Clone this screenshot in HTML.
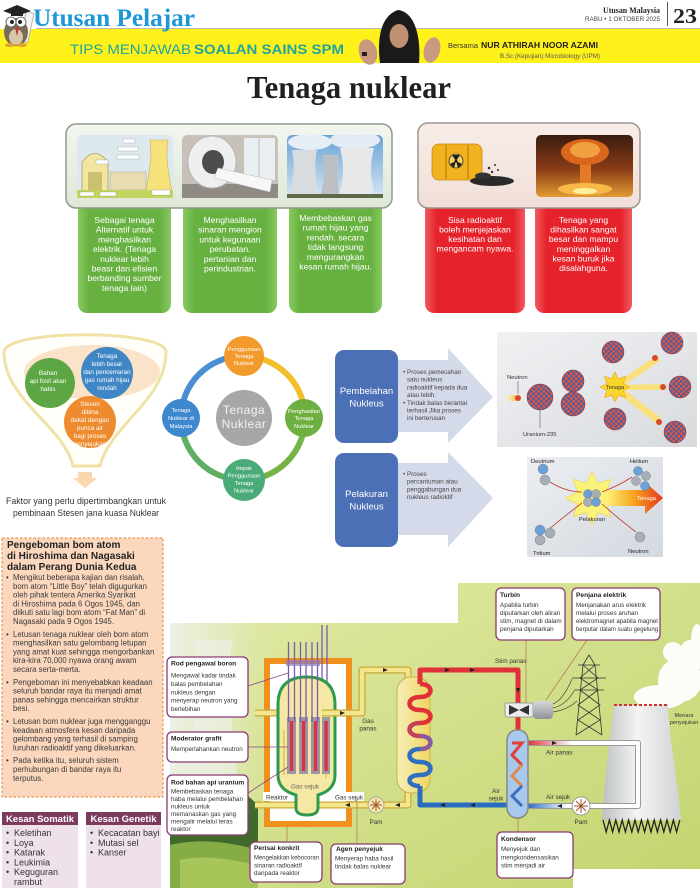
<!DOCTYPE html>
<html><head><meta charset="utf-8">
<style>
html,body{margin:0;padding:0;background:#fff;}
svg{display:block;}
text{font-family:"Liberation Sans",sans-serif;}
text.serif{font-family:"Liberation Serif",serif;}
</style></head><body>
<svg width="700" height="888" viewBox="0 0 700 888" xmlns="http://www.w3.org/2000/svg">
<defs>
<linearGradient id="gG" x1="0" y1="0" x2="1" y2="0"><stop offset="0" stop-color="#88c960"/><stop offset=".12" stop-color="#67b140"/><stop offset=".88" stop-color="#67b140"/><stop offset="1" stop-color="#88c960"/></linearGradient>
<linearGradient id="gR" x1="0" y1="0" x2="1" y2="0"><stop offset="0" stop-color="#f05a5e"/><stop offset=".12" stop-color="#e6222b"/><stop offset=".88" stop-color="#e6222b"/><stop offset="1" stop-color="#f05a5e"/></linearGradient>
<linearGradient id="gCG" x1="0" y1="0" x2="0" y2="1"><stop offset="0" stop-color="#f2f6ef"/><stop offset="1" stop-color="#dfe8d8"/></linearGradient>
<linearGradient id="gCR" x1="0" y1="0" x2="0" y2="1"><stop offset="0" stop-color="#f8ede8"/><stop offset="1" stop-color="#f0dfd8"/></linearGradient>
<linearGradient id="gSky" x1="0" y1="0" x2="0" y2="1"><stop offset="0" stop-color="#6aa3d6"/><stop offset="1" stop-color="#d6e6f3"/></linearGradient>
<linearGradient id="gExp" x1="0" y1="0" x2="0" y2="1"><stop offset="0" stop-color="#3a1c10"/><stop offset=".55" stop-color="#8a3c16"/><stop offset="1" stop-color="#e39a34"/></linearGradient>
<linearGradient id="gFis" x1="0" y1="0" x2="1" y2="1"><stop offset="0" stop-color="#f0f1f3"/><stop offset="1" stop-color="#d8dbde"/></linearGradient>
<linearGradient id="gFus" x1="0" y1="0" x2="1" y2="1"><stop offset="0" stop-color="#eceef1"/><stop offset="1" stop-color="#d3d9e0"/></linearGradient>
<linearGradient id="gFA" x1="0" y1="0" x2="1" y2="0"><stop offset="0" stop-color="#fff27a"/><stop offset=".5" stop-color="#f7a21c"/><stop offset="1" stop-color="#e3361e"/></linearGradient>
<linearGradient id="gTrail" x1="0" y1="0" x2="1" y2="0"><stop offset="0" stop-color="#fff6c0" stop-opacity="0"/><stop offset="1" stop-color="#f6c23a"/></linearGradient>
<linearGradient id="gLime" x1="0" y1="0" x2="1" y2="1"><stop offset="0" stop-color="#e3eaa8"/><stop offset="1" stop-color="#c2d56e"/></linearGradient>
<linearGradient id="gPhoto" x1="0" y1="0" x2="1" y2="0"><stop offset="0" stop-color="#eef1e8"/><stop offset=".6" stop-color="#e4ebc8" stop-opacity=".7"/><stop offset="1" stop-color="#dde7b0" stop-opacity="0"/></linearGradient>
<linearGradient id="gHX" x1="0" y1="0" x2="1" y2="0"><stop offset="0" stop-color="#f7eeb8"/><stop offset="1" stop-color="#efd662"/></linearGradient>
<linearGradient id="gTow" x1="0" y1="0" x2="1" y2="0"><stop offset="0" stop-color="#bcc0c2"/><stop offset=".45" stop-color="#f4f4f4"/><stop offset="1" stop-color="#cfd2d4"/></linearGradient>
<linearGradient id="gAP" gradientUnits="userSpaceOnUse" x1="527" y1="0" x2="572" y2="0"><stop offset="0" stop-color="#e0303a"/><stop offset="1" stop-color="#ffffff"/></linearGradient>
<linearGradient id="gAS" gradientUnits="userSpaceOnUse" x1="527" y1="0" x2="568" y2="0"><stop offset="0" stop-color="#2a6cc0"/><stop offset="1" stop-color="#ffffff"/></linearGradient>
<linearGradient id="gGen" x1="0" y1="0" x2="0" y2="1"><stop offset="0" stop-color="#d4d7da"/><stop offset="1" stop-color="#8e9398"/></linearGradient>
<pattern id="nuc" patternUnits="userSpaceOnUse" width="5" height="5">
<rect width="5" height="5" fill="#d44a3a"/>
<circle cx="1.25" cy="1.25" r="1.3" fill="#3a63b5"/>
<circle cx="3.75" cy="3.75" r="1.3" fill="#3a63b5"/>
<circle cx="3.75" cy="1.25" r="1.2" fill="#e2583f"/>
<circle cx="1.25" cy="3.75" r="1.2" fill="#e2583f"/>
</pattern>
</defs>

<!-- ===== HEADER ===== -->
<rect x="0" y="29" width="700" height="34" fill="#fff11a"/>
<line x1="36" y1="28.5" x2="700" y2="28.5" stroke="#b8b8b8" stroke-width="1"/>
<!-- owl -->
<rect x="23" y="12" width="8" height="30" fill="#f4f4f4" stroke="#aaa" stroke-width=".8" transform="rotate(12 27 27)"/>
<ellipse cx="16" cy="32" rx="12" ry="14" fill="#7a6a58"/>
<ellipse cx="16" cy="37" rx="7" ry="8" fill="#d9c8a8"/>
<circle cx="11" cy="22" r="5" fill="#fff" stroke="#555" stroke-width=".8"/>
<circle cx="21" cy="22" r="5" fill="#fff" stroke="#555" stroke-width=".8"/>
<circle cx="12" cy="22" r="2" fill="#222"/><circle cx="20" cy="22" r="2" fill="#222"/>
<polygon points="3,11 17,5 31,11 17,16" fill="#222"/>
<rect x="11" y="11" width="12" height="5" fill="#222"/>
<polygon points="15,28 17,27 19,28 17,36" fill="#c0392b"/>
<ellipse cx="10" cy="45" rx="5" ry="2" fill="#e0a030"/><ellipse cx="22" cy="45" rx="5" ry="2" fill="#e0a030"/>
<text class="serif" x="33" y="26" font-weight="bold" font-size="25" fill="#1b98d5" textLength="162" lengthAdjust="spacingAndGlyphs">Utusan Pelajar</text>
<text x="70" y="54" font-size="14" fill="#1fa59c" textLength="121" lengthAdjust="spacingAndGlyphs">TIPS MENJAWAB</text>
<text x="194" y="54" font-size="14" font-weight="bold" fill="#1fa59c" textLength="150" lengthAdjust="spacingAndGlyphs">SOALAN SAINS SPM</text>
<!-- person -->
<ellipse cx="368" cy="52" rx="9" ry="13" fill="#c99a80" transform="rotate(-15 368 52)"/>
<rect x="362" y="52" width="5" height="4" fill="#222"/>
<path d="M380,63 C377,40 380,16 398,10 C416,12 421,40 419,63 Z" fill="#1a1a1a"/>
<ellipse cx="399" cy="36" rx="9.5" ry="12" fill="#c08e70"/>
<ellipse cx="432" cy="50" rx="8" ry="13" fill="#c99a80" transform="rotate(15 432 50)"/>
<text x="448" y="48" font-size="7.5" fill="#333">Bersama</text>
<text x="481" y="48" font-size="8.5" font-weight="bold" fill="#222" textLength="117" lengthAdjust="spacingAndGlyphs">NUR ATHIRAH NOOR AZAMI</text>
<text x="500" y="58" font-size="6.5" fill="#555" textLength="100" lengthAdjust="spacingAndGlyphs">B.Sc (Kepujian) Microbiology (UPM)</text>
<text class="serif" x="603" y="13" font-weight="bold" font-size="8" fill="#222" textLength="57" lengthAdjust="spacingAndGlyphs">Utusan Malaysia</text>
<text x="585" y="21" font-size="6.5" fill="#444" textLength="75" lengthAdjust="spacingAndGlyphs">RABU • 1 OKTOBER 2025</text>
<line x1="667.5" y1="2" x2="667.5" y2="26" stroke="#555" stroke-width="1"/>
<text class="serif" x="673" y="23" font-size="21" font-weight="bold" fill="#222" textLength="24" lengthAdjust="spacingAndGlyphs">23</text>

<!-- TITLE -->
<text class="serif" x="349" y="98" text-anchor="middle" font-weight="bold" font-size="32" fill="#231f20" textLength="204" lengthAdjust="spacingAndGlyphs">Tenaga nuklear</text>

<!-- ===== TOP CARDS ===== -->
<rect x="78" y="195" width="93" height="118" rx="9" fill="url(#gG)"/>
<rect x="183" y="195" width="94" height="118" rx="9" fill="url(#gG)"/>
<rect x="289" y="195" width="93" height="118" rx="9" fill="url(#gG)"/>
<rect x="425" y="195" width="100" height="118" rx="9" fill="url(#gR)"/>
<rect x="535" y="195" width="97" height="118" rx="9" fill="url(#gR)"/>
<rect x="66" y="124" width="326" height="84" rx="10" fill="url(#gCG)" stroke="#8f998a" stroke-width="1.5"/>
<rect x="418" y="123" width="222" height="85" rx="10" fill="url(#gCR)" stroke="#9c9694" stroke-width="1.5"/>
<!-- img1 plant diagram -->
<rect x="77" y="135" width="96" height="63" rx="5" fill="#dde8ef"/>
<path d="M150,140 C153,160 148,175 146,192 L172,192 C169,175 165,160 168,140 Z" fill="#f5e27a" stroke="#c9b24a" stroke-width=".6"/>
<path d="M82,195 L82,162 Q95,145 108,162 L108,195 Z" fill="#f1e5a0" stroke="#a8a060" stroke-width=".8"/>
<rect x="88" y="172" width="14" height="20" fill="#c9c070"/>
<rect x="110" y="172" width="36" height="18" fill="#e8ddb0" stroke="#999" stroke-width=".4"/>
<rect x="77" y="190" width="96" height="8" fill="#c2d65f"/>
<rect x="123" y="139" width="12" height="4" fill="#fff" stroke="#888" stroke-width=".3"/>
<rect x="118" y="147" width="20" height="4" fill="#fff" stroke="#888" stroke-width=".3"/>
<rect x="117" y="155" width="22" height="4" fill="#fff" stroke="#888" stroke-width=".3"/>
<rect x="96" y="160" width="12" height="4" fill="#fff" stroke="#888" stroke-width=".3"/>
<rect x="80" y="192" width="14" height="4" fill="#fff" stroke="#888" stroke-width=".3"/>
<rect x="100" y="192" width="16" height="4" fill="#fff" stroke="#888" stroke-width=".3"/>
<rect x="152" y="190" width="18" height="5" fill="#fff" stroke="#888" stroke-width=".3"/>
<!-- img2 MRI -->
<rect x="182" y="135" width="96" height="63" rx="5" fill="#c7c1b9"/>
<rect x="244" y="138" width="31" height="42" fill="#e9eef2"/>
<line x1="259" y1="138" x2="259" y2="180" stroke="#bbb" stroke-width="1"/>
<rect x="182" y="184" width="96" height="14" fill="#8f8a83"/>
<ellipse cx="212" cy="162" rx="24" ry="26" fill="#efefef" stroke="#b5b5b5" stroke-width="1"/>
<ellipse cx="213" cy="162" rx="11" ry="12" fill="#4d4d4d"/>
<polygon points="218,168 272,180 270,192 214,178" fill="#f7f7f7" stroke="#bbb" stroke-width=".5"/>
<!-- img3 cooling towers -->
<rect x="287" y="135" width="96" height="63" rx="5" fill="url(#gSky)"/>
<ellipse cx="310" cy="142" rx="22" ry="8" fill="#f2f5f8" opacity=".9"/>
<ellipse cx="355" cy="140" rx="25" ry="9" fill="#eef2f6" opacity=".9"/>
<path d="M292,150 C296,170 292,185 289,198 L320,198 C317,185 313,170 317,150 Z" fill="#d9dcdf"/>
<path d="M322,155 C326,172 323,186 320,198 L340,198 C338,186 336,172 339,155 Z" fill="#bcc0c4"/>
<path d="M340,148 C346,170 342,186 338,198 L376,198 C372,186 368,170 374,148 Z" fill="#e6e8ea"/>
<rect x="287" y="194" width="96" height="4" fill="#5d6a4a"/>
<!-- barrel -->
<rect x="432" y="144" width="50" height="36" rx="7" fill="#f2b21f" stroke="#c9890f" stroke-width=".8"/>
<line x1="446" y1="145" x2="446" y2="179" stroke="#c98a10" stroke-width="1.5"/>
<line x1="468" y1="145" x2="468" y2="179" stroke="#c98a10" stroke-width="1.5"/>
<circle cx="456" cy="161" r="7" fill="#f7d060" stroke="#333" stroke-width=".8"/>
<circle cx="456" cy="161" r="1.4" fill="#222"/>
<path d="M456,161 L452,155 L460,155 Z M456,161 L450,164 L454,168 Z M456,161 L462,164 L458,168 Z" fill="#222"/>
<ellipse cx="492" cy="181" rx="22" ry="5" fill="#2a2a2a"/>
<ellipse cx="483" cy="176" rx="8" ry="3.5" fill="#333"/>
<circle cx="489" cy="168" r="1.3" fill="#333"/><circle cx="495" cy="165" r="1" fill="#333"/><circle cx="492" cy="172" r="1.2" fill="#333"/><circle cx="498" cy="170" r="1" fill="#333"/>
<!-- explosion -->
<rect x="536" y="135" width="97" height="62" rx="5" fill="url(#gExp)"/>
<rect x="580" y="158" width="11" height="28" fill="#e37a25"/>
<ellipse cx="585" cy="152" rx="24" ry="13" fill="#d8661c"/>
<ellipse cx="585" cy="150" rx="15" ry="8" fill="#f0a040"/>
<ellipse cx="585" cy="189" rx="27" ry="6" fill="#f7b848"/>
<ellipse cx="585" cy="191" rx="12" ry="3" fill="#fff0a0"/>
<!-- card texts -->
<g font-size="8.6" fill="#fff" text-anchor="middle">
<text x="124.5" y="223">Sebagai tenaga</text>
<text x="124.5" y="232.7">Alternatif untuk</text>
<text x="124.5" y="242.4">menghasilkan</text>
<text x="124.5" y="252.1">elektrik. (Tenaga</text>
<text x="124.5" y="261.8">nuklear lebih</text>
<text x="124.5" y="271.5">beasr dan efisien</text>
<text x="124.5" y="281.2">berbanding sumber</text>
<text x="124.5" y="290.9">tenaga lain)</text>
<text x="230" y="223">Menghasilkan</text>
<text x="230" y="232.7">sinaran mengion</text>
<text x="230" y="242.4">untuk kegunaan</text>
<text x="230" y="252.1">perubatan.</text>
<text x="230" y="261.8">pertanian dan</text>
<text x="230" y="271.5">perindustrian.</text>
<text x="335.5" y="221">Membebaskan gas</text>
<text x="335.5" y="230.7">rumah hijau yang</text>
<text x="335.5" y="240.4">rendah. secara</text>
<text x="335.5" y="250.1">tidak langsung</text>
<text x="335.5" y="259.8">mengurangkan</text>
<text x="335.5" y="269.5">kesan rumah hijau.</text>
<text x="475" y="223">Sisa radioaktif</text>
<text x="475" y="232.5">boleh menjejaskan</text>
<text x="475" y="242">kesihatan dan</text>
<text x="475" y="251.5">mengancam nyawa.</text>
<text x="583.5" y="223">Tenaga yang</text>
<text x="583.5" y="232.6">dihasilkan sangat</text>
<text x="583.5" y="242.2">besar dan mampu</text>
<text x="583.5" y="251.8">meninggalkan</text>
<text x="583.5" y="261.4">kesan buruk jika</text>
<text x="583.5" y="271">disalahguna.</text>
</g>

<!-- ===== FUNNEL ===== -->
<path d="M4,352 C4,329 166,329 166,352 C166,400 110,425 100,466 L73,466 C63,425 4,400 4,352 Z" fill="#fffef8" stroke="#f0e2a6" stroke-width="3"/>
<ellipse cx="92" cy="372" rx="68" ry="27" fill="#fae3c8"/>
<circle cx="50" cy="383" r="25" fill="#5ca743"/>
<circle cx="107" cy="373" r="26" fill="#3e86c6"/>
<circle cx="90" cy="422" r="26" fill="#ee8b2e"/>
<g font-size="6.3" fill="#fff" text-anchor="middle">
<text x="48" y="375">Bahan</text>
<text x="48" y="383">api fosil akan</text>
<text x="48" y="391">habis</text>
<text x="107" y="358">Tenaga</text>
<text x="107" y="366">lebih besar</text>
<text x="107" y="374">dan pencemaran</text>
<text x="107" y="382">gas rumah hijau</text>
<text x="107" y="390">rendah</text>
<text x="90" y="406">Stesen</text>
<text x="90" y="414">dibina</text>
<text x="90" y="422">dekat dengan</text>
<text x="90" y="430">punca air</text>
<text x="90" y="438">bagi proses</text>
<text x="90" y="446">penyejukan</text>
</g>
<polygon points="78,472 92,472 92,478 97,478 85,488 73,478 78,478" fill="#fbd6ae"/>
<text x="86" y="504" text-anchor="middle" font-size="9.4" fill="#333" textLength="160" lengthAdjust="spacingAndGlyphs">Faktor yang perlu dipertimbangkan untuk</text>
<text x="86" y="516" text-anchor="middle" font-size="9.4" fill="#333" textLength="146" lengthAdjust="spacingAndGlyphs">pembinaan Stesen jana kuasa Nuklear</text>

<!-- ===== CYCLE ===== -->
<g fill="none" stroke-width="6">
<path d="M243,356 A62,62 0 0 1 305,418" stroke="#f2bf2c"/>
<path d="M305,418 A62,62 0 0 1 243,480" stroke="#76b346"/>
<path d="M243,480 A62,62 0 0 1 181,418" stroke="#5fae62"/>
<path d="M181,418 A62,62 0 0 1 243,356" stroke="#4a8fd1"/>
</g>
<circle cx="244" cy="356" r="20" fill="#f39a2c"/>
<circle cx="304" cy="418" r="19" fill="#6eb040"/>
<circle cx="244" cy="480" r="21" fill="#4aab78"/>
<circle cx="181" cy="418" r="19" fill="#3e88cf"/>
<circle cx="244" cy="418" r="28" fill="#a7a7a7"/>
<g font-size="5.8" fill="#fff" text-anchor="middle">
<text x="244" y="351">Penggunaan</text><text x="244" y="358">Tenaga</text><text x="244" y="365">Nuklear</text>
<text x="304" y="413">Penghasilan</text><text x="304" y="420">Tenaga</text><text x="304" y="428">Nuklear</text>
<text x="244" y="470">Impak</text><text x="244" y="477.5">Penggunaan</text><text x="244" y="485">Tenaga</text><text x="244" y="492.5">Nuklear</text>
<text x="181" y="412">Tenaga</text><text x="181" y="420">Nuklear di</text><text x="181" y="428">Malaysia</text>
</g>
<text x="244" y="414" text-anchor="middle" font-size="12" fill="#f2f2f2" letter-spacing=".5">Tenaga</text>
<text x="244" y="428" text-anchor="middle" font-size="12" fill="#f2f2f2" letter-spacing=".5">Nuklear</text>

<!-- ===== FISSION / FUSION ===== -->
<polygon points="396,360 448,360 448,348 493,397 448,443 448,432 396,432" fill="#d5daeb"/>
<polygon points="396,463 448,463 448,452 493,498 448,547 448,535 396,535" fill="#d5daeb"/>
<rect x="335" y="350" width="63" height="93" rx="9" fill="#4c70b6"/>
<rect x="335" y="453" width="63" height="94" rx="9" fill="#4c70b6"/>
<g font-size="9.5" fill="#fff" text-anchor="middle">
<text x="366.5" y="394">Pembelahan</text><text x="366.5" y="406.5">Nukleus</text>
<text x="366.5" y="497">Pelakuran</text><text x="366.5" y="509.5">Nukleus</text>
</g>
<g font-size="6.3" fill="#444">
<text x="403" y="374">•</text><text x="407" y="374">Proses pemecahan</text>
<text x="407" y="381.7">satu nukleus</text>
<text x="407" y="389.4">radioaktif kepada dua</text>
<text x="407" y="397.1">atau lebih.</text>
<text x="403" y="404.8">•</text><text x="407" y="404.8">Tindak balas berantai</text>
<text x="407" y="412.5">terhasil Jika proses</text>
<text x="407" y="420.2">ini berterusan</text>
<text x="403" y="476">•</text><text x="407" y="476">Proses</text>
<text x="407" y="483.7">percantuman atau</text>
<text x="407" y="491.4">penggabungan dua</text>
<text x="407" y="499.1">nukleus radioktif</text>
</g>
<!-- fission image -->
<rect x="497" y="332" width="200" height="115" fill="url(#gFis)"/>
<polygon points="615,384 657,355 660,361 617,390" fill="#f9e07a"/>
<polygon points="615,385 664,384 664,390 615,390" fill="#f9e07a"/>
<polygon points="617,384 661,418 657,424 614,390" fill="#f9e07a"/>
<rect x="503" y="395" width="13" height="6" fill="url(#gTrail)"/>
<circle cx="518" cy="398" r="3" fill="#d84a2a"/>
<line x1="518" y1="381" x2="518" y2="394" stroke="#555" stroke-width=".6"/>
<line x1="540" y1="410" x2="540" y2="428" stroke="#555" stroke-width=".6"/>
<g stroke="#7a2a30" stroke-width=".5" fill="url(#nuc)">
<circle cx="540" cy="397" r="13"/>
<circle cx="573" cy="381" r="11"/>
<circle cx="573" cy="404" r="12"/>
<circle cx="613" cy="352" r="11"/>
<circle cx="672" cy="343" r="11"/>
<circle cx="680" cy="387" r="11"/>
<circle cx="615" cy="419" r="11"/>
<circle cx="675" cy="432" r="11"/>
</g>
<polygon transform="translate(615,387)" points="15,0 8.3,3.4 10.6,10.6 3.4,8.3 0,15 -3.4,8.3 -10.6,10.6 -8.3,3.4 -15,0 -8.3,-3.4 -10.6,-10.6 -3.4,-8.3 0,-15 3.4,-8.3 10.6,-10.6 8.3,-3.4" fill="#f8d52a" stroke="#f0a020" stroke-width=".6"/>
<circle cx="655" cy="358" r="3" fill="#d84a2a"/><circle cx="663" cy="387" r="3" fill="#d84a2a"/><circle cx="659" cy="422" r="3" fill="#d84a2a"/>
<g font-size="5.8" fill="#333">
<text x="507" y="379">Neutron</text>
<text x="523" y="436">Uranium-235</text>
<text x="615" y="389" text-anchor="middle" font-size="5.5">Tenaga</text>
</g>
<!-- fusion image -->
<rect x="527" y="457" width="136" height="100" fill="url(#gFus)"/>
<polygon transform="translate(592,498) scale(1.75)" points="15,0 8.3,3.4 10.6,10.6 3.4,8.3 0,15 -3.4,8.3 -10.6,10.6 -8.3,3.4 -15,0 -8.3,-3.4 -10.6,-10.6 -3.4,-8.3 0,-15 3.4,-8.3 10.6,-10.6 8.3,-3.4" fill="#fbf27c" stroke="#f3d54a" stroke-width=".4"/>
<polygon points="606,490 645,490 645,482 663,498 645,514 645,506 606,506" fill="url(#gFA)"/>
<g fill="none" stroke="#c0392b" stroke-width=".8">
<path d="M550,482 Q566,492 582,492"/><path d="M548,530 Q566,515 582,503"/>
<path d="M602,492 Q620,485 632,477"/><path d="M602,504 Q620,520 636,532"/>
</g>
<g stroke="#6a7077" stroke-width=".4">
<circle cx="543" cy="469" r="5" fill="#6d9fd8"/><circle cx="545" cy="480" r="5" fill="#a8aeb5"/>
<circle cx="540" cy="530" r="5" fill="#6d9fd8"/><circle cx="550" cy="533" r="5" fill="#a8aeb5"/><circle cx="540" cy="540" r="5" fill="#a8aeb5"/>
<circle cx="638" cy="471" r="4.5" fill="#6d9fd8"/><circle cx="646" cy="476" r="4.5" fill="#a8aeb5"/><circle cx="636" cy="481" r="4.5" fill="#a8aeb5"/><circle cx="645" cy="486" r="4.5" fill="#6d9fd8"/>
<circle cx="640" cy="537" r="5" fill="#a8aeb5"/>
<circle cx="588" cy="494" r="4.5" fill="#6d9fd8"/><circle cx="596" cy="494" r="4.5" fill="#a8aeb5"/><circle cx="588" cy="502" r="4.5" fill="#a8aeb5"/><circle cx="596" cy="502" r="4.5" fill="#6d9fd8"/>
</g>
<g font-size="5.8" fill="#222">
<text x="531" y="463">Deutrium</text>
<text x="630" y="463">Helium</text>
<text x="592" y="521" text-anchor="middle">Pelakuran</text>
<text x="533" y="555">Tritium</text>
<text x="628" y="553">Neutron</text>
<text x="637" y="500" fill="#fff">Tenaga</text>
</g>

<!-- ===== LEFT TEXT BOX ===== -->
<rect x="2" y="538" width="161" height="259" fill="#fbd8bd" stroke="#e7944e" stroke-width="1.2" stroke-dasharray="2.5 2"/>
<g font-size="10" font-weight="bold" fill="#222">
<text x="7" y="548">Pengeboman bom atom</text>
<text x="7" y="559">di Hiroshima dan Nagasaki</text>
<text x="7" y="570">dalam Perang Dunia Kedua</text>
</g>
<g font-size="7.8" fill="#3a3a3a">
<text x="6" y="580">•</text><text x="13" y="580">Mengikut beberapa kajian dan risalah,</text>
<text x="13" y="588.8">bom atom “Little Boy” telah digugurkan</text>
<text x="13" y="597.6">oleh pihak tentera Amerika Syarikat</text>
<text x="13" y="606.4">di Hiroshima pada 6 Ogos 1945, dan</text>
<text x="13" y="615.2">diikuti satu lagi bom atom “Fat Man” di</text>
<text x="13" y="624">Nagasaki pada 9 Ogos 1945.</text>
<text x="6" y="636.8">•</text><text x="13" y="636.8">Letusan tenaga nuklear oleh bom atom</text>
<text x="13" y="645.6">menghasilkan satu gelombang letupan</text>
<text x="13" y="654.4">yang amat kuat sehingga mengorbankan</text>
<text x="13" y="663.2">kira-kira 70,000 nyawa orang awam</text>
<text x="13" y="672">secara serta-merta.</text>
<text x="6" y="684.8">•</text><text x="13" y="684.8">Pengeboman ini menyebabkan keadaan</text>
<text x="13" y="693.6">seluruh bandar raya itu menjadi amat</text>
<text x="13" y="702.4">panas sehingga mencairkan struktur</text>
<text x="13" y="711.2">besi.</text>
<text x="6" y="724">•</text><text x="13" y="724">Letusan bom nuklear juga mengganggu</text>
<text x="13" y="732.8">keadaan atmosfera kesan daripada</text>
<text x="13" y="741.6">gelombang yang terhasil di samping</text>
<text x="13" y="750.4">luruhan radioaktif yang dikeluarkan.</text>
<text x="6" y="763.2">•</text><text x="13" y="763.2">Pada ketika itu, seluruh sistem</text>
<text x="13" y="772">perhubungan di bandar raya itu</text>
<text x="13" y="780.8">terputus.</text>
</g>

<!-- KESAN boxes -->
<rect x="2" y="812" width="76" height="13" fill="#7c3a5f"/>
<rect x="2" y="825" width="76" height="63" fill="#eee1ea"/>
<rect x="86" y="812" width="75" height="13" fill="#7c3a5f"/>
<rect x="86" y="825" width="75" height="63" fill="#eee1ea"/>
<text x="40" y="822" text-anchor="middle" font-size="9.5" font-weight="bold" fill="#fff">Kesan Somatik</text>
<text x="123.5" y="822" text-anchor="middle" font-size="9.5" font-weight="bold" fill="#fff">Kesan Genetik</text>
<g font-size="9" fill="#333">
<text x="6" y="836">•</text><text x="14" y="836">Keletihan</text>
<text x="6" y="845.8">•</text><text x="14" y="845.8">Loya</text>
<text x="6" y="855.6">•</text><text x="14" y="855.6">Katarak</text>
<text x="6" y="865.4">•</text><text x="14" y="865.4">Leukimia</text>
<text x="6" y="875.2">•</text><text x="14" y="875.2">Keguguran</text>
<text x="14" y="885">rambut</text>
<text x="90" y="836">•</text><text x="98" y="836">Kecacatan bayi</text>
<text x="90" y="845.8">•</text><text x="98" y="845.8">Mutasi sel</text>
<text x="90" y="855.6">•</text><text x="98" y="855.6">Kanser</text>
</g>

<!-- ===== REACTOR DIAGRAM ===== -->
<polygon points="170,623 458,623 458,583 700,583 700,869 573,869 573,888 170,888" fill="url(#gLime)"/>
<rect x="170" y="623" width="100" height="180" fill="url(#gPhoto)"/>
<path d="M195,640 C200,700 190,760 186,800 L240,800 C236,760 226,700 232,640 Z" fill="#eef0ea" opacity=".6"/>
<path d="M170,800 C180,790 190,795 198,788 C210,782 222,792 232,786 C244,790 252,800 258,805 L258,888 L170,888 Z" fill="#3f6a2c"/>
<ellipse cx="185" cy="805" rx="16" ry="14" fill="#335a25"/>
<ellipse cx="222" cy="800" rx="18" ry="14" fill="#4a7a32"/>
<path d="M170,845 C200,838 230,842 258,850 L258,888 L170,888 Z" fill="#86ad45"/>
<path d="M180,860 C200,855 230,858 258,866 L258,888 L180,888 Z" fill="#a6c65a"/>
<!-- steam cloud -->
<g fill="#ffffff" opacity=".95">
<ellipse cx="660" cy="697" rx="26" ry="12"/>
<ellipse cx="680" cy="680" rx="22" ry="22"/>
<ellipse cx="690" cy="658" rx="12" ry="18"/>
<ellipse cx="673" cy="652" rx="10" ry="10"/>
<ellipse cx="697" cy="640" rx="6" ry="16"/>
</g>
<!-- shield -->
<rect x="267" y="661" width="82" height="163" fill="#fff" stroke="#f0901e" stroke-width="6"/>
<!-- control rods long -->
<line x1="322" y1="625" x2="322" y2="735" stroke="#7a5bb0" stroke-width="1.3"/>
<line x1="327" y1="625" x2="327" y2="735" stroke="#7a5bb0" stroke-width="1.3"/>
<!-- yellow pipes -->
<g fill="none" stroke-linejoin="round">
<path d="M255,713 H280" stroke="#c5ab3c" stroke-width="7"/>
<path d="M255,713 H280" stroke="#f5e68e" stroke-width="4.5"/>
<path d="M255,805 H408 V790" stroke="#c5ab3c" stroke-width="7"/>
<path d="M255,805 H408 V790" stroke="#f5e68e" stroke-width="4.5"/>
</g>
<rect x="263" y="792" width="30" height="9" fill="#fff"/>
<rect x="333" y="792" width="31" height="9" fill="#fff"/>
<!-- vessel -->
<path d="M278,705 Q278,677 306.5,677 Q335,677 335,705 L335,775 Q335,790 318,795 L318,808 Q318,815 307,815 Q296,815 296,808 L296,795 Q278,790 278,775 Z" fill="#f5e7a4" stroke="#2f9a4c" stroke-width="3"/>
<g fill="none" stroke-linejoin="round">
<path d="M322,713 H362 V670 H408 V684" stroke="#c5ab3c" stroke-width="7"/>
<path d="M322,713 H362 V670 H408 V684" stroke="#f5e68e" stroke-width="4.5"/>
<path d="M326,716 V778 M284,775 V730" stroke="#e8cf5a" stroke-width="2"/>
</g>
<!-- moderator / fuel -->
<g fill="#9b9aa3">
<rect x="287" y="717" width="9" height="57"/><rect x="299" y="717" width="9" height="57"/><rect x="311" y="717" width="9" height="57"/><rect x="322" y="717" width="8" height="57"/>
</g>
<g fill="#d8334a">
<rect x="289.8" y="721" width="3.5" height="50"/><rect x="301.8" y="721" width="3.5" height="50"/><rect x="313.8" y="721" width="3.5" height="50"/><rect x="324.3" y="721" width="3.5" height="50"/>
</g>
<g stroke="#7a5bb0" stroke-width="1.3">
<line x1="288.5" y1="642" x2="288.5" y2="722"/><line x1="294.5" y1="642" x2="294.5" y2="722"/><line x1="300.5" y1="642" x2="300.5" y2="722"/><line x1="306" y1="642" x2="306" y2="722"/><line x1="312" y1="642" x2="312" y2="722"/><line x1="317.5" y1="642" x2="317.5" y2="722"/>
</g>
<rect x="286" y="660" width="34" height="6" fill="#8f78c0" opacity=".7"/>
<!-- heat exchanger -->
<rect x="397" y="677" width="33" height="116" rx="14" fill="url(#gHX)" stroke="#c9b24a" stroke-width="1"/>
<g fill="none" stroke-width="4.5">
<path d="M420,684 C434,684 434,697 420,697" stroke="#e0303a"/>
<path d="M420,697 C406,697 406,710 420,710" stroke="#e0303a"/>
<path d="M420,710 C434,710 434,723 420,723" stroke="#e0303a"/>
<path d="M420,723 C406,723 406,736 420,736" stroke="#c2405a"/>
<path d="M420,736 C434,736 434,749 420,749" stroke="#8a5aa0"/>
<path d="M420,749 C406,749 406,762 420,762" stroke="#2f6fc0"/>
<path d="M420,762 C434,762 434,775 420,775" stroke="#2f6fc0"/>
<path d="M420,775 C406,775 406,786 420,786" stroke="#2f6fc0"/>
</g>
<!-- red stim pipe & blue pipe -->
<path d="M420,684 V670 H518 V735" fill="none" stroke="#e0303a" stroke-width="5" stroke-linejoin="round"/>
<path d="M420,786 V805 H510" fill="none" stroke="#2a6cc0" stroke-width="5" stroke-linejoin="round"/>
<!-- cooling tower -->
<path d="M614,705 C610,740 604,780 602,820 L681,820 C678,780 669,740 668,705 Z" fill="url(#gTow)"/>
<line x1="614" y1="705" x2="668" y2="705" stroke="#d03030" stroke-width="2" stroke-dasharray="3 2"/>
<polyline points="603,820 606.2,832 609.4,820 612.6,832 615.8,820 619,832 622.2,820 625.4,832 628.6,820 631.8,832 635,820 638.2,832 641.4,820 644.6,832 647.8,820 651,832 654.2,820 657.4,832 660.6,820 663.8,832 667,820 670.2,832 673.4,820 676.6,832 679.8,820" fill="none" stroke="#222" stroke-width="1.3"/>
<!-- cooling loop -->
<path d="M527,743 H638 V806 H527" fill="none" stroke="#9a9a9a" stroke-width="6" stroke-linejoin="round"/>
<path d="M527,743 H638 V806 H527" fill="none" stroke="#ffffff" stroke-width="4" stroke-linejoin="round"/>
<path d="M527,743 H575" stroke="url(#gAP)" stroke-width="4"/>
<path d="M527,806 H570" stroke="url(#gAS)" stroke-width="4"/>
<!-- condenser -->
<rect x="507" y="730" width="21" height="88" rx="10" fill="#a9c9ec" stroke="#888" stroke-width="1.5"/>
<path d="M512,743 H522 L512,755 L522,765" fill="none" stroke="#e0403a" stroke-width="3"/>
<path d="M522,765 L512,776 L522,786" fill="none" stroke="#e08a50" stroke-width="3"/>
<path d="M522,786 L512,796 L522,806" fill="none" stroke="#3a6fc0" stroke-width="3"/>
<!-- turbine + generator -->
<rect x="505" y="703" width="28" height="14" rx="2" fill="#ececec" stroke="#888" stroke-width=".8"/>
<polygon points="509,705 519,710 509,715" fill="#333"/><polygon points="529,705 519,710 529,715" fill="#333"/>
<rect x="533" y="701" width="20" height="18" rx="4" fill="url(#gGen)"/>
<g fill="none" stroke="#444" stroke-width=".7">
<path d="M553,704 Q563,700 572,679"/><path d="M553,708 Q566,705 574,691"/><path d="M553,712 Q567,710 577,701"/>
</g>
<!-- pylon -->
<g fill="none" stroke="#333" stroke-width=".8">
<path d="M589,655 L583,665 L576,735 M589,655 L595,665 L602,735"/>
<path d="M572,678 H606 M574,690 H604 M578,665 H600"/>
<path d="M583,665 L598,678 L580,690 L600,705 L578,720 L602,735 M595,665 L580,678 L598,690 L578,705 L600,720 L576,735"/>
</g>
<!-- pumps -->
<circle cx="376" cy="805" r="8" fill="#f6eab0" stroke="#999" stroke-width=".8"/>
<g stroke="#a0522d" stroke-width="1"><line x1="370" y1="805" x2="382" y2="805"/><line x1="376" y1="799" x2="376" y2="811"/><line x1="372" y1="801" x2="380" y2="809"/><line x1="380" y1="801" x2="372" y2="809"/></g>
<circle cx="581" cy="806" r="9" fill="#fff" stroke="#888" stroke-width=".8"/>
<g stroke="#a0522d" stroke-width="1"><line x1="574" y1="806" x2="588" y2="806"/><line x1="581" y1="799" x2="581" y2="813"/><line x1="576" y1="801" x2="586" y2="811"/><line x1="586" y1="801" x2="576" y2="811"/></g>
<!-- flow arrows -->
<g fill="#222">
<polygon points="383,668 388,670 383,672"/><polygon points="340,711 345,713 340,715"/>
<polygon points="445,668 450,670 445,672"/><polygon points="470,668 475,670 470,672"/><polygon points="516,688 518,693 520,688"/>
<polygon points="475,803 470,805 475,807"/><polygon points="445,803 440,805 445,807"/>
<polygon points="400,803 395,805 400,807"/><polygon points="350,803 345,805 350,807"/>
<polygon points="552,741 557,743 552,745"/><polygon points="562,804 557,806 562,808"/>
</g>
<!-- connectors -->
<g stroke="#8a4a80" stroke-width=".8" fill="none">
<line x1="248" y1="686" x2="288" y2="673"/>
<line x1="248" y1="747" x2="288" y2="747"/>
<line x1="248" y1="793" x2="288" y2="767"/>
</g>
<g stroke="#b08060" stroke-width=".8" fill="none">
<line x1="287" y1="827" x2="287" y2="842"/>
<line x1="357" y1="797" x2="357" y2="844"/>
<line x1="526" y1="640" x2="526" y2="703"/>
<line x1="587" y1="640" x2="546" y2="700"/>
<line x1="518" y1="818" x2="518" y2="832"/>
</g>
<!-- diagram labels -->
<g font-size="6.3" fill="#333">
<text x="266" y="799.5">Reaktor</text>
<text x="305" y="788.5" text-anchor="middle" fill="#666">Gas sejuk</text>
<text x="335" y="799.5">Gas sejuk</text>
<text x="368" y="723" text-anchor="middle">Gas</text>
<text x="368" y="730.5" text-anchor="middle">panas</text>
<text x="376" y="824" text-anchor="middle">Pam</text>
<text x="495" y="663">Stim panas</text>
<text x="496" y="793" text-anchor="middle">Air</text>
<text x="496" y="800.5" text-anchor="middle">sejuk</text>
<text x="546" y="754.5">Air panas</text>
<text x="546" y="799">Air sejuk</text>
<text x="581" y="824" text-anchor="middle">Pam</text>
<text x="684" y="717" text-anchor="middle" font-size="5.6">Menara</text>
<text x="684" y="724" text-anchor="middle" font-size="5.6">penyejukan</text>
</g>
<!-- callouts -->
<g fill="#fff" stroke="#8a3a70" stroke-width="1.3">
<rect x="167" y="657" width="81" height="60" rx="5"/>
<rect x="167" y="732" width="81" height="30" rx="5"/>
<rect x="167" y="775" width="81" height="60" rx="5"/>
<rect x="250" y="842" width="72" height="40" rx="5"/>
<rect x="331" y="844" width="74" height="40" rx="5"/>
<rect x="496" y="588" width="69" height="52" rx="5"/>
<rect x="572" y="588" width="88" height="52" rx="5"/>
<rect x="497" y="832" width="76" height="46" rx="5"/>
</g>
<g font-size="6.6" font-weight="bold" fill="#222">
<text x="171" y="665.5">Rod pengawal boron</text>
<text x="171" y="740.5">Moderator grafit</text>
<text x="171" y="784.5">Rod bahan api uranium</text>
<text x="254" y="850">Perisai konkrit</text>
<text x="336" y="851">Agen penyejuk</text>
<text x="500" y="597">Turbin</text>
<text x="576" y="597">Penjana elektrik</text>
<text x="501" y="841">Kondensor</text>
</g>
<g font-size="6.3" fill="#333">
<text x="171" y="677.5">Mengawal kadar tindak</text>
<text x="171" y="686">balas pembelahan</text>
<text x="171" y="694.3">nukleus dengan</text>
<text x="171" y="702.6">menyerap neutron yang</text>
<text x="171" y="711">berlebihan</text>
<text x="171" y="751">Memperlahankan neutron</text>
<text x="171" y="793.5">Membebaskan tenaga</text>
<text x="171" y="801" textLength="72" lengthAdjust="spacingAndGlyphs">haba melalui pembelahan</text>
<text x="171" y="808.5">nukleus untuk</text>
<text x="171" y="816">memanaskan gas yang</text>
<text x="171" y="823.5">mengalir melalui teras</text>
<text x="171" y="831">reaktor</text>
<text x="254" y="859.5" textLength="65" lengthAdjust="spacingAndGlyphs">Mengelakkan kebocoran</text>
<text x="254" y="867.3">sinaran radioaktif</text>
<text x="254" y="875">daripada reaktor</text>
<text x="335" y="860.5">Menyerap haba hasil</text>
<text x="335" y="868.3">tindak balas nuklear</text>
<text x="500" y="607">Apabila turbin</text>
<text x="500" y="615">diputarkan oleh aliran</text>
<text x="500" y="623">stim, magnet di dalam</text>
<text x="500" y="631">penjana diputarkan</text>
<text x="576" y="607">Menjanakan arus elektrik</text>
<text x="576" y="615">melalui proses aruhan</text>
<text x="576" y="623" textLength="82" lengthAdjust="spacingAndGlyphs">elektromagnet apabila magnet</text>
<text x="576" y="631" textLength="82" lengthAdjust="spacingAndGlyphs">berputar dalam suatu gegelung</text>
<text x="501" y="851">Menyejuk dan</text>
<text x="501" y="859.3">mengkondensasikan</text>
<text x="501" y="867.5">stim menjadi air</text>
</g>
</svg>
</body></html>
